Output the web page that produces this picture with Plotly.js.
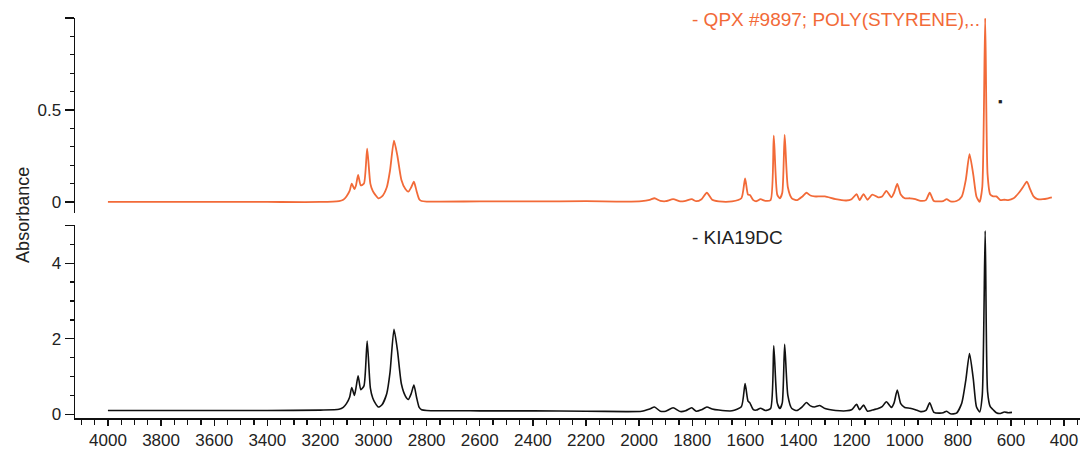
<!DOCTYPE html>
<html>
<head>
<meta charset="utf-8">
<script src="https://cdn.plot.ly/plotly-3.0.1.min.js"></script>
<style>
  html, body { margin: 0; padding: 0; background: #fff; }
  #chart { width: 1090px; height: 456px; }
</style>
</head>
<body>
<div id="chart"></div>
<script>
// Reference spectrum (top panel)
const wnQPX = [4000, 3800, 3600, 3400, 3200, 3130, 3114, 3102, 3090, 3082, 3072, 3066, 3058, 3048, 3036, 3024, 3012, 3003, 2994, 2982, 2968, 2950, 2938, 2923, 2910, 2895, 2880, 2869, 2858, 2848, 2838, 2828, 2819, 2800, 2600, 2400, 2200, 2050, 1990, 1960, 1942, 1920, 1900, 1872, 1845, 1825, 1802, 1785, 1765, 1745, 1725, 1700, 1650, 1615, 1601, 1590, 1583, 1570, 1558, 1543, 1525, 1505, 1493, 1480, 1470, 1461, 1452, 1440, 1425, 1405, 1385, 1370, 1355, 1340, 1320, 1300, 1260, 1220, 1200, 1181, 1170, 1155, 1140, 1122, 1100, 1085, 1069, 1050, 1040, 1028, 1015, 1000, 980, 960, 940, 920, 906, 890, 870, 855, 842, 828, 805, 785, 770, 756, 742, 730, 718, 708, 697, 688, 678, 667, 655, 640, 625, 610, 590, 570, 555, 540, 528, 515, 500, 480, 460, 446];
const absQPX = [0.0, 0.0, 0.0, 0.0, 0.0, 0.005, 0.012, 0.03, 0.06, 0.10, 0.07, 0.09, 0.147, 0.09, 0.10, 0.29, 0.10, 0.06, 0.04, 0.02, 0.03, 0.08, 0.17, 0.333, 0.25, 0.12, 0.07, 0.056, 0.08, 0.11, 0.06, 0.015, 0.005, 0.002, 0.003, 0.003, 0.004, 0.002, 0.005, 0.012, 0.02, 0.006, 0.004, 0.015, 0.003, 0.006, 0.015, 0.004, 0.015, 0.05, 0.012, 0.003, 0.003, 0.02, 0.128, 0.04, 0.038, 0.01, 0.004, 0.015, 0.006, 0.01, 0.36, 0.04, 0.02, 0.05, 0.364, 0.08, 0.02, 0.01, 0.03, 0.05, 0.035, 0.03, 0.03, 0.03, 0.015, 0.008, 0.015, 0.043, 0.01, 0.043, 0.012, 0.04, 0.025, 0.03, 0.06, 0.025, 0.05, 0.098, 0.04, 0.02, 0.02, 0.015, 0.006, 0.01, 0.05, 0.005, 0.003, 0.005, 0.015, 0.003, 0.005, 0.03, 0.12, 0.26, 0.15, 0.03, 0.0, 0.08, 1.0, 0.15, 0.04, 0.03, 0.03, 0.01, 0.012, 0.01, 0.02, 0.05, 0.08, 0.11, 0.07, 0.03, 0.015, 0.015, 0.02, 0.025];

// Sample spectrum (bottom panel)
const wnKIA = [4000, 3800, 3600, 3400, 3200, 3130, 3114, 3102, 3090, 3082, 3072, 3066, 3058, 3048, 3036, 3024, 3012, 3003, 2994, 2982, 2968, 2950, 2938, 2923, 2910, 2895, 2880, 2869, 2858, 2848, 2838, 2828, 2819, 2800, 2600, 2400, 2200, 2050, 1990, 1960, 1942, 1920, 1900, 1872, 1845, 1825, 1802, 1785, 1765, 1745, 1725, 1700, 1650, 1615, 1601, 1590, 1583, 1570, 1558, 1543, 1525, 1505, 1493, 1480, 1470, 1461, 1452, 1440, 1425, 1405, 1385, 1370, 1355, 1340, 1320, 1300, 1260, 1220, 1200, 1181, 1170, 1155, 1140, 1122, 1100, 1085, 1069, 1050, 1040, 1028, 1015, 1000, 980, 960, 940, 920, 906, 890, 870, 855, 842, 828, 805, 785, 770, 756, 742, 730, 718, 708, 697, 688, 678, 667, 655, 640, 625, 610, 596];
const absKIA = [0.10, 0.10, 0.10, 0.10, 0.11, 0.13, 0.18, 0.28, 0.45, 0.71, 0.50, 0.70, 1.02, 0.65, 0.75, 1.94, 0.70, 0.43, 0.30, 0.19, 0.25, 0.55, 1.10, 2.25, 1.70, 0.80, 0.48, 0.39, 0.55, 0.77, 0.45, 0.18, 0.12, 0.10, 0.09, 0.09, 0.08, 0.07, 0.08, 0.14, 0.19, 0.08, 0.08, 0.17, 0.07, 0.09, 0.17, 0.08, 0.12, 0.19, 0.14, 0.11, 0.09, 0.20, 0.81, 0.35, 0.30, 0.12, 0.11, 0.16, 0.10, 0.15, 1.81, 0.30, 0.15, 0.30, 1.85, 0.50, 0.15, 0.10, 0.20, 0.31, 0.22, 0.19, 0.23, 0.15, 0.10, 0.09, 0.12, 0.26, 0.12, 0.24, 0.08, 0.11, 0.15, 0.20, 0.33, 0.18, 0.30, 0.64, 0.28, 0.18, 0.16, 0.12, 0.07, 0.10, 0.30, 0.05, 0.03, 0.04, 0.08, 0.01, 0.03, 0.30, 0.90, 1.61, 0.95, 0.20, 0.06, 0.50, 4.86, 0.60, 0.20, 0.12, 0.04, 0.02, 0.06, 0.04, 0.05];

const nameQPX = "- QPX #9897; POLY(STYRENE),..";
const nameKIA = "- KIA19DC";
const yTitle = "Absorbance";
const xTickVals = [4000, 3800, 3600, 3400, 3200, 3000, 2800, 2600, 2400, 2200, 2000, 1800, 1600, 1400, 1200, 1000, 800, 600, 400];

const ORANGE = "#f26a38";
const FONT = "Liberation Sans, Arial, Helvetica, sans-serif";

const traces = [
  { x: wnKIA, y: absKIA, xaxis: "x", yaxis: "y", type: "scatter", mode: "lines",
    line: { color: "#111111", width: 1.6, shape: "spline", smoothing: 0.6 }, hoverinfo: "skip", name: nameKIA },
  { x: wnQPX, y: absQPX, xaxis: "x", yaxis: "y2", type: "scatter", mode: "lines",
    line: { color: ORANGE, width: 1.8, shape: "spline", smoothing: 0.6 }, hoverinfo: "skip", name: nameQPX }
];

const layout = {
  width: 1090, height: 456,
  margin: { l: 75, r: 10, t: 15, b: 38 },
  paper_bgcolor: "#ffffff", plot_bgcolor: "#ffffff",
  showlegend: false,
  font: { family: FONT, size: 17, color: "#222" },
  xaxis: {
    range: [4124, 340], anchor: "y",
    tickvals: xTickVals, ticks: "outside", ticklen: 6, tickwidth: 1.3, tickcolor: "#111",
    minor: { dtick: 50, ticks: "outside", ticklen: 5, tickwidth: 1.3, tickcolor: "#111" },
    showline: true, linecolor: "#111", linewidth: 1.5,
    showgrid: false, zeroline: false,
    tickfont: { family: FONT, size: 17, color: "#222" }
  },
  yaxis: {
    domain: [0, 0.4777], range: [-0.1, 5.0], anchor: "x",
    tickvals: [0, 2, 4, 5], ticktext: ["0", "2", "4", ""],
    ticks: "outside", ticklen: 9, tickwidth: 1.3, tickcolor: "#111",
    minor: { dtick: 0.5, ticks: "outside", ticklen: 4, tickwidth: 1.3, tickcolor: "#111" },
    showline: true, linecolor: "#111", linewidth: 1.5,
    showgrid: false, zeroline: false,
    tickfont: { family: FONT, size: 17, color: "#222" }
  },
  yaxis2: {
    domain: [0.5087, 0.9926], range: [-0.06, 1.0], anchor: "x",
    tickvals: [0, 0.5, 1], ticktext: ["0", "0.5", ""],
    ticks: "outside", ticklen: 9, tickwidth: 1.3, tickcolor: "#111",
    minor: { dtick: 0.1, ticks: "outside", ticklen: 4, tickwidth: 1.3, tickcolor: "#111" },
    showline: true, linecolor: "#111", linewidth: 1.5,
    showgrid: false, zeroline: false,
    tickfont: { family: FONT, size: 17, color: "#222" }
  },
  annotations: [
    { text: yTitle, xref: "paper", yref: "paper", x: 0, xshift: -52, y: 0.504,
      textangle: -90, showarrow: false, xanchor: "center", yanchor: "middle",
      font: { family: FONT, size: 18, color: "#222" } },
    { text: nameQPX, xref: "paper", yref: "paper", x: 0.612, y: 0.990,
      xanchor: "left", yanchor: "middle", showarrow: false,
      font: { family: FONT, size: 19, color: ORANGE } },
    { text: nameKIA, xref: "paper", yref: "paper", x: 0.612, y: 0.449,
      xanchor: "left", yanchor: "middle", showarrow: false,
      font: { family: FONT, size: 19, color: "#222" } },
    { text: "\u25AA", xref: "paper", yref: "paper", x: 0.921, y: 0.785,
      xanchor: "center", yanchor: "middle", showarrow: false,
      font: { family: FONT, size: 13, color: "#222" } }
  ]
};

Plotly.newPlot("chart", traces, layout, { staticPlot: true, displayModeBar: false });
</script>
</body>
</html>
